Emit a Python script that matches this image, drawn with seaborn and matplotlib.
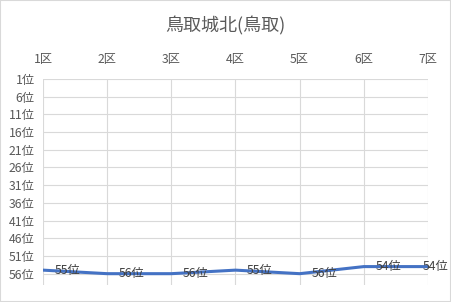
import matplotlib
matplotlib.use("Agg")
import matplotlib.pyplot as plt
import seaborn as sns
import pandas as pd
from matplotlib.patches import Rectangle

sns.set_theme(style="white")
plt.rcParams['font.family'] = ['Noto Sans CJK JP', 'DejaVu Sans']

title = "鳥取城北(鳥取)"
categories = ["1区", "2区", "3区", "4区", "5区", "6区", "7区"]
ranks = [55, 56, 56, 55, 56, 54, 54]
ytick_values = [1, 6, 11, 16, 21, 26, 31, 36, 41, 46, 51, 56]
ytick_labels = [f"{v}位" for v in ytick_values]

df = pd.DataFrame({"x": list(range(len(categories))), "rank": ranks})

fig = plt.figure(figsize=(4.51, 3.02), dpi=100)
ax = fig.add_axes([43/451, 1-285/302, (428-43)/451, (285-79)/302])

sns.lineplot(data=df, x="x", y="rank", ax=ax, color="#4472C4", linewidth=2.2, sort=False)

ax.set_xlim(0, len(categories)-1)
ax.set_ylim(59.2, 1)
ax.set_xticks(range(len(categories)))
ax.set_xticklabels(categories)
ax.xaxis.tick_top()
ax.set_yticks(ytick_values)
ax.set_yticklabels(ytick_labels)
ax.tick_params(axis="both", labelsize=8.8, colors="#595959", length=0, pad=6)
ax.tick_params(axis="x", pad=9)
ax.grid(True, color="#D9D9D9", linewidth=0.8)
for s in ax.spines.values():
    s.set_visible(False)
ax.set_xlabel("")
ax.set_ylabel("")

n = len(ranks)
for i, r in enumerate(ranks):
    dx = 0.18 if i < n - 1 else -0.08
    ax.text(i + dx, r, f"{r}位", fontsize=8.8, color="#404040", ha="left", va="center")

fig.text(0.5, 1-26/302, title, ha="center", va="center", fontsize=13, color="#595959")
fig.patches.append(Rectangle((0, 0), 1, 1, transform=fig.transFigure, fill=False,
                             edgecolor="#D9D9D9", linewidth=1.5))

fig.savefig("out.png", dpi=100)
